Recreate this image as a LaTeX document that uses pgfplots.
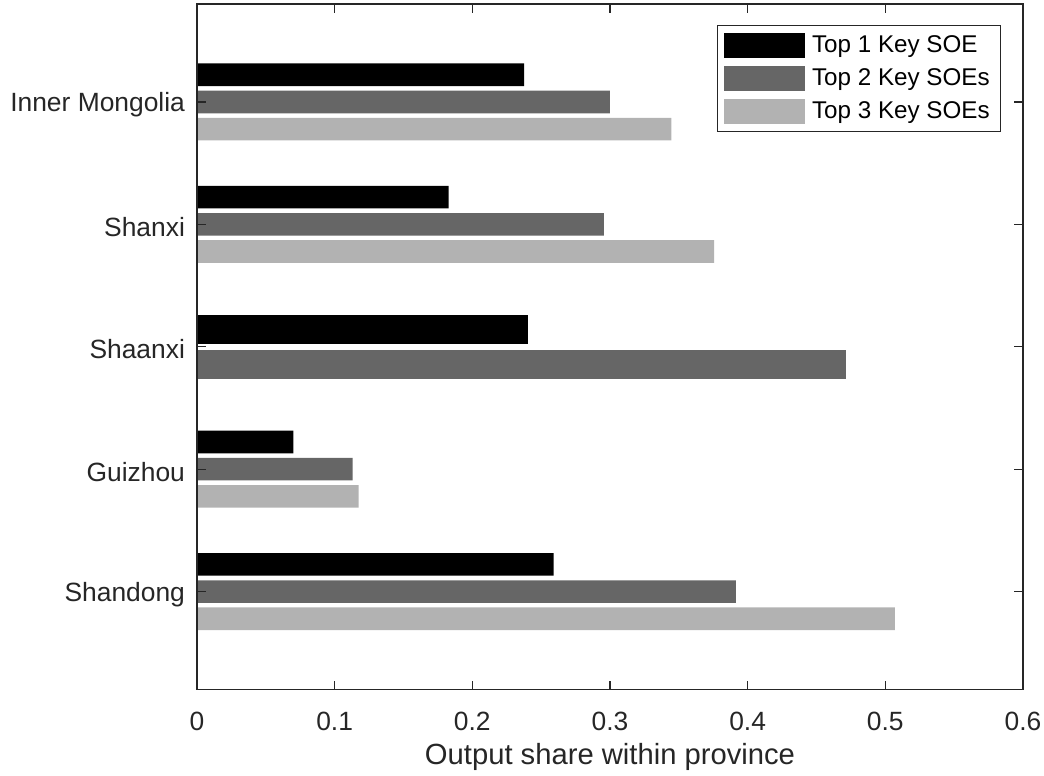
\documentclass[border=0pt]{standalone}
\usepackage{pgfplots}
\pgfplotsset{compat=1.18}
\usepackage{fontspec}
\setmainfont{Liberation Sans}
\definecolor{axgray}{gray}{0.15}
\definecolor{barA}{gray}{0}
\definecolor{barB}{gray}{0.4}
\definecolor{barC}{gray}{0.7}

\begin{document}
\begin{tikzpicture}
\begin{axis}[
  scale only axis,
  width=413pt, height=342.75pt,
  xmin=0, xmax=0.6,
  ymin=0.2, ymax=5.8, y dir=reverse,
  xtick={0,0.1,0.2,0.3,0.4,0.5,0.6},
  ytick={1,2,3,4,5},
  yticklabels={Inner Mongolia,Shanxi,Shaanxi,Guizhou,Shandong},
  tick align=inside,
  major tick length=4.5pt,
  axis on top,
  axis line style={axgray, line width=0.6pt},
  every tick/.style={axgray, line width=0.6pt},
  /pgf/number format/assume math mode=true,
  tick label style={font=\fontsize{13.2}{15}\selectfont, text=axgray},
  xticklabel style={/pgf/number format/fixed, /pgf/number format/precision=1, yshift=-7.7pt},
  yticklabel style={xshift=-2.5pt, yshift=-1.4pt},
  xlabel={Output share within province},
  xlabel style={font=\fontsize{14.6}{17}\selectfont, text=axgray,
    at={(axis description cs:0.5,0)}, anchor=base, yshift=-37.6pt},
  legend image code/.code={\fill[#1] (0pt,-6.25pt) rectangle (40.5pt,6.25pt);},
  legend style={at={(0.9737,0.9694)}, anchor=north east,
    draw=axgray, line width=0.6pt, fill=white,
    font=\fontsize{12.1}{14}\selectfont, text=black,
    inner xsep=3.5pt, inner ysep=3pt, row sep=2.6pt,
    /tikz/every odd column/.append style={column sep=1.5pt},
    cells={anchor=west}},
]
% three-company groups (Shaanxi drawn separately below)
\addplot[xbar, bar width=0.185, bar shift=-0.2222, fill=barA, draw=none]
  coordinates {(0.2377,1) (0.1828,2) (0.0700,4) (0.2590,5)};
\addplot[xbar, bar width=0.185, bar shift=0, fill=barB, draw=none]
  coordinates {(0.3000,1) (0.2956,2) (0.1130,4) (0.3914,5)};
\addplot[xbar, bar width=0.185, bar shift=0.2222, fill=barC, draw=none]
  coordinates {(0.3445,1) (0.3757,2) (0.1174,4) (0.5069,5)};
% Shaanxi: only two series
\addplot[xbar, bar width=0.235, bar shift=-0.1429, fill=barA, draw=none, forget plot]
  coordinates {(0.2401,3)};
\addplot[xbar, bar width=0.235, bar shift=0.1429, fill=barB, draw=none, forget plot]
  coordinates {(0.4711,3)};
\legend{Top 1 Key SOE, Top 2 Key SOEs, Top 3 Key SOEs}
\end{axis}
\pgfresetboundingbox
\path[use as bounding box]
  ([shift={(-98.5pt,-43.25pt)}]current axis.south west)
  rectangle ([shift={(423.5pt,344.75pt)}]current axis.south west);
\end{tikzpicture}
\end{document}
